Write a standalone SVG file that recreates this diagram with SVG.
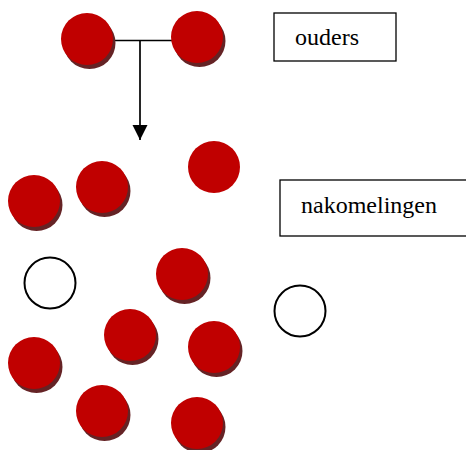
<svg xmlns="http://www.w3.org/2000/svg" width="466" height="450" viewBox="0 0 466 450">
<style>
.s{fill:#652325}
.r{fill:#C00000}
.o{fill:#fff;stroke:#000;stroke-width:2}
.box{fill:#fff;stroke:#000;stroke-width:1.3}
</style>
<defs>
<g id="dot"><circle class="s" cx="2.5" cy="4" r="26"/><circle class="r" cx="0" cy="0" r="26"/></g>
<marker id="ah" markerWidth="16" markerHeight="16" refX="15" refY="7.5" orient="auto" markerUnits="userSpaceOnUse"><path d="M0,0 L15,7.5 L0,15 Z" fill="#000"/></marker>
</defs>
<g id="connectors" stroke="#000" stroke-width="1.7" fill="none">
<line x1="110" y1="40.5" x2="172" y2="40.5"/>
<line x1="140" y1="40.5" x2="140" y2="140" marker-end="url(#ah)"/>
</g>
<g id="parent1"><use href="#dot" x="87" y="39"/></g>
<g id="parent2"><use href="#dot" x="197" y="37"/></g>
<g id="ouders"><rect class="box" x="274" y="13" width="122" height="48"/><text x="295" y="45" font-family="'Liberation Serif', 'Times New Roman', 'DejaVu Serif', serif" font-size="24" fill="#000">ouders</text></g>
<g id="nakomelingen"><rect class="box" x="280" y="180" width="190" height="56"/><text x="301" y="213" font-family="'Liberation Serif', 'Times New Roman', 'DejaVu Serif', serif" font-size="24" fill="#000">nakomelingen</text></g>
<g id="c1"><use href="#dot" x="34" y="201"/></g>
<g id="c2"><use href="#dot" x="102" y="187"/></g>
<g id="c3"><circle class="r" cx="214" cy="167" r="26"/></g>
<g id="c4"><circle class="o" cx="50" cy="283" r="25.5"/></g>
<g id="c5"><use href="#dot" x="182" y="274"/></g>
<g id="c6"><circle class="o" cx="300" cy="311" r="25.5"/></g>
<g id="c7"><use href="#dot" x="130" y="335"/></g>
<g id="c8"><use href="#dot" x="34" y="363"/></g>
<g id="c9"><use href="#dot" x="214" y="347"/></g>
<g id="c10"><use href="#dot" x="102" y="411"/></g>
<g id="c11"><use href="#dot" x="197" y="423"/></g>
</svg>
